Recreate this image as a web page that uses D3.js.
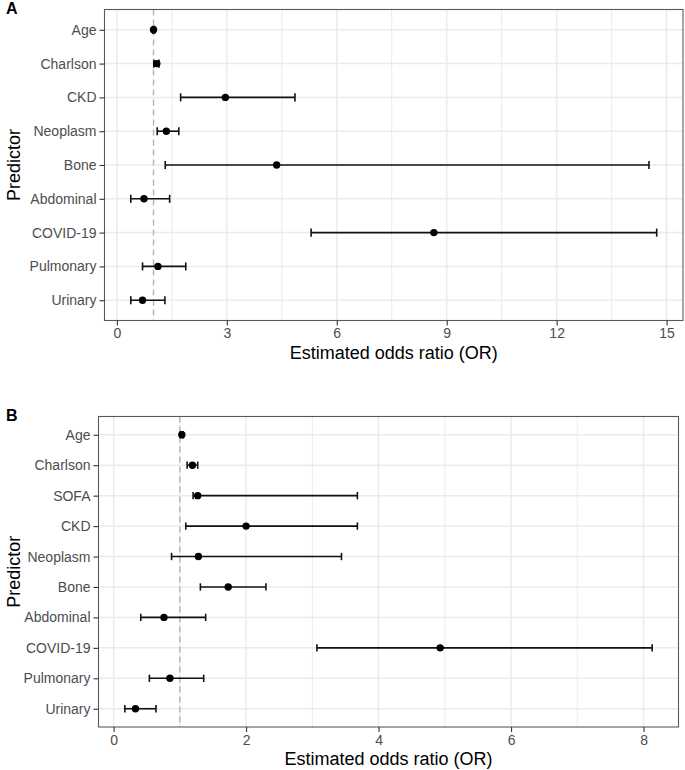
<!DOCTYPE html>
<html>
<head>
<meta charset="utf-8">
<script src="https://cdn.jsdelivr.net/npm/d3@7"></script>
<style>
  body { margin: 0; background: #fff; }
  svg { display: block; font-family: "Liberation Sans", Arial, sans-serif; }
</style>
</head>
<body>
<script>
// panel A
const predictorsA = ['Age', 'Charlson', 'CKD', 'Neoplasm', 'Bone', 'Abdominal', 'COVID-19', 'Pulmonary', 'Urinary'];
const orA    = [1.00, 1.09, 2.96, 1.35, 4.36, 0.74, 8.65, 1.12, 0.70];
const lowerA = [0.98, 1.01, 1.74, 1.10, 1.32, 0.38, 5.30, 0.70, 0.38];
const upperA = [1.03, 1.15, 4.86, 1.69, 14.52, 1.44, 14.73, 1.88, 1.31];
const ticksA = [0, 3, 6, 9, 12, 15];

// panel B
const predictorsB = ['Age', 'Charlson', 'SOFA', 'CKD', 'Neoplasm', 'Bone', 'Abdominal', 'COVID-19', 'Pulmonary', 'Urinary'];
const orB    = [1.03, 1.19, 1.27, 2.00, 1.28, 1.73, 0.76, 4.93, 0.85, 0.33];
const lowerB = [1.01, 1.11, 1.20, 1.09, 0.875, 1.31, 0.41, 3.07, 0.54, 0.17];
const upperB = [1.05, 1.27, 3.68, 3.68, 3.44, 2.30, 1.39, 8.13, 1.36, 0.64];
const ticksB = [0, 2, 4, 6, 8];

const refLine = 1;

const svg = d3.select('body').append('svg')
  .attr('width', 685)
  .attr('height', 770);

const drawPanel = (opt) => {
  const data = opt.names.map((n, i) => ({ name: n, or: opt.or[i], lo: opt.lower[i], hi: opt.upper[i] }));
  const lo = d3.min(data, (d) => d.lo);
  const hi = d3.max(data, (d) => d.hi);
  const pad = (hi - lo) * 0.05;

  const x = d3.scaleLinear().domain([lo - pad, hi + pad]).range([opt.left, opt.right]);
  const y = d3.scalePoint().domain(opt.names).range([opt.top, opt.bottom]).padding(0.6);

  const g = svg.append('g');
  const step = opt.ticks[1] - opt.ticks[0];
  const minor = opt.ticks.map((t) => t + step / 2).filter((t) => x(t) < opt.right);

  //grid
  g.selectAll('.minor').data(minor).enter().append('line')
    .attr('x1', (d) => x(d)).attr('x2', (d) => x(d))
    .attr('y1', opt.top).attr('y2', opt.bottom)
    .attr('stroke', '#EBEBEB').attr('stroke-width', 1);
  g.selectAll('.major').data(opt.ticks).enter().append('line')
    .attr('x1', (d) => x(d)).attr('x2', (d) => x(d))
    .attr('y1', opt.top).attr('y2', opt.bottom)
    .attr('stroke', '#EBEBEB').attr('stroke-width', 1.5);
  g.selectAll('.hgrid').data(opt.names).enter().append('line')
    .attr('x1', opt.left).attr('x2', opt.right)
    .attr('y1', (d) => y(d)).attr('y2', (d) => y(d))
    .attr('stroke', '#EBEBEB').attr('stroke-width', 1.5);

  //reference line at OR = 1
  g.append('line')
    .attr('x1', x(refLine)).attr('x2', x(refLine))
    .attr('y1', opt.top).attr('y2', opt.bottom)
    .attr('stroke', '#B3B3B3').attr('stroke-width', 1.4)
    .attr('stroke-dasharray', '6,4');

  //error bars
  const cap = y.step() * 0.12;
  const bars = g.selectAll('.bar').data(data).enter().append('g');
  bars.append('line')
    .attr('x1', (d) => x(d.lo)).attr('x2', (d) => x(d.hi))
    .attr('y1', (d) => y(d.name)).attr('y2', (d) => y(d.name));
  bars.append('line')
    .attr('x1', (d) => x(d.lo)).attr('x2', (d) => x(d.lo))
    .attr('y1', (d) => y(d.name) - cap).attr('y2', (d) => y(d.name) + cap);
  bars.append('line')
    .attr('x1', (d) => x(d.hi)).attr('x2', (d) => x(d.hi))
    .attr('y1', (d) => y(d.name) - cap).attr('y2', (d) => y(d.name) + cap);
  bars.selectAll('line').attr('stroke', '#111').attr('stroke-width', 1.6);

  //points
  g.selectAll('circle').data(data).enter().append('circle')
    .attr('cx', (d) => x(d.or)).attr('cy', (d) => y(d.name))
    .attr('r', 3.7).attr('fill', '#000');

  //border
  g.append('rect')
    .attr('x', opt.left).attr('y', opt.top)
    .attr('width', opt.right - opt.left).attr('height', opt.bottom - opt.top)
    .attr('fill', 'none').attr('stroke', '#595959').attr('stroke-width', 1.1);

  //axes
  const xAxis = g.append('g')
    .attr('transform', `translate(0, ${opt.bottom})`)
    .call(d3.axisBottom(x).tickValues(opt.ticks).tickSize(5).tickPadding(3).tickFormat(d3.format('d')));
  const yAxis = g.append('g')
    .attr('transform', `translate(${opt.left}, 0)`)
    .call(d3.axisLeft(y).tickSize(5).tickPadding(3));
  [xAxis, yAxis].forEach((a) => {
    a.select('.domain').remove();
    a.selectAll('.tick line').attr('stroke', '#333').attr('stroke-width', 1.1);
    a.selectAll('.tick text').attr('fill', '#4D4D4D').style('font-size', '14px')
      .style('font-family', '"Liberation Sans", Arial, sans-serif');
  });

  //titles
  g.append('text')
    .attr('x', (opt.left + opt.right) / 2).attr('y', opt.bottom + 38)
    .attr('text-anchor', 'middle').style('font-size', '18px').attr('fill', '#000')
    .text('Estimated odds ratio (OR)');
  g.append('text')
    .attr('transform', `translate(20, ${(opt.top + opt.bottom) / 2}) rotate(-90)`)
    .attr('text-anchor', 'middle').style('font-size', '18px').attr('fill', '#000')
    .text('Predictor');
  g.append('text')
    .attr('x', 6).attr('y', opt.top + 4)
    .style('font-size', '16px').style('font-weight', 'bold')
    .text(opt.label);
};

drawPanel({ names: predictorsA, or: orA, lower: lowerA, upper: upperA, ticks: ticksA,
  left: 104.5, right: 683, top: 9.5, bottom: 320.5, label: 'A' });
drawPanel({ names: predictorsB, or: orB, lower: lowerB, upper: upperB, ticks: ticksB,
  left: 98.5, right: 678.5, top: 416.5, bottom: 727, label: 'B' });
</script>
</body>
</html>
